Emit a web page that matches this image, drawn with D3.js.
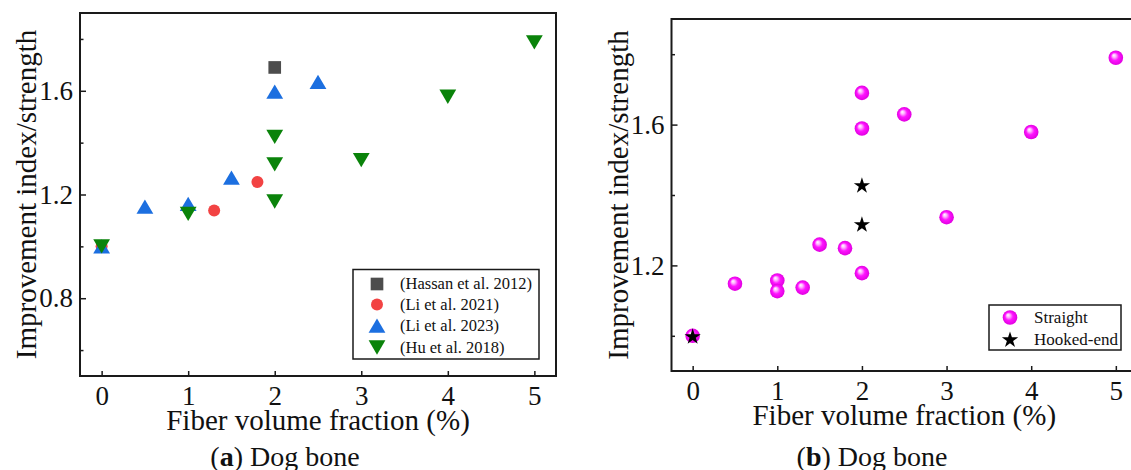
<!DOCTYPE html>
<html>
<head>
<meta charset="utf-8">
<script src="https://cdn.jsdelivr.net/npm/d3@7"></script>
<style>
  body { margin: 0; background: #fff; }
  svg text { font-family: "Liberation Serif", "Times New Roman", serif; fill: #111; }
</style>
</head>
<body>
<div class="container"></div>
<script>
// panel (a) data
const xHassan = [2];
const yHassan = [1.69];
const xLi21 = [0, 1.3, 1.8];
const yLi21 = [1.0, 1.138, 1.248];
const xLi23 = [0, 0.5, 1, 1.5, 2, 2.5];
const yLi23 = [1.0, 1.153, 1.164, 1.265, 1.597, 1.634];
const xHu = [0, 1, 2, 2, 2, 3, 4, 5];
const yHu = [1.0, 1.125, 1.422, 1.316, 1.173, 1.333, 1.577, 1.787];
const legendA = ["(Hassan et al. 2012)", "(Li et al. 2021)", "(Li et al. 2023)", "(Hu et al. 2018)"];

// panel (b) data
const xStraight = [0, 0.5, 1, 1, 1.3, 1.5, 1.8, 2, 2, 2, 2.5, 3, 4, 5];
const yStraight = [1.0, 1.148, 1.157, 1.127, 1.137, 1.259, 1.249, 1.69, 1.589, 1.178, 1.629, 1.337, 1.579, 1.79];
const xHooked = [0, 2, 2];
const yHooked = [1.0, 1.429, 1.318];
const legendB = ["Straight", "Hooked-end"];

const xTicks = [0, 1, 2, 3, 4, 5];
const yMajorA = [0.8, 1.2, 1.6];
const yMinorA = [0.6, 1.0, 1.4, 1.8];
const yMajorB = [1.2, 1.6];
const yMinorB = [1.0, 1.4, 1.8];

const W = 1131, H = 470;
const svg = d3.select(".container").append("svg")
  .attr("width", W).attr("height", H)
  .attr("font-family", "Liberation Serif, Times New Roman, serif");

// sphere gradient
const defs = svg.append("defs");
const grad = defs.append("radialGradient").attr("id", "ball")
  .attr("cx", "50%").attr("cy", "50%").attr("r", "50%")
  .attr("fx", "35%").attr("fy", "32%");
grad.append("stop").attr("offset", "0%").attr("stop-color", "#ffffff");
grad.append("stop").attr("offset", "25%").attr("stop-color", "#ffb0ff");
grad.append("stop").attr("offset", "55%").attr("stop-color", "#ff14ff");
grad.append("stop").attr("offset", "100%").attr("stop-color", "#e000e0");

// triangles centred on their bounding box
const triUp = { draw(ctx, s) { const h = s * 0.85; ctx.moveTo(0, -h / 2); ctx.lineTo(s / 2, h / 2); ctx.lineTo(-s / 2, h / 2); ctx.closePath(); } };
const triDown = { draw(ctx, s) { const h = s * 0.85; ctx.moveTo(0, h / 2); ctx.lineTo(s / 2, -h / 2); ctx.lineTo(-s / 2, -h / 2); ctx.closePath(); } };

function panel(o) {
  const x = d3.scaleLinear().domain([-0.25, 5.25]).range([o.left, o.right]);
  const y = d3.scaleLinear().domain(o.yDomain).range([o.bottom, o.top]);
  const g = svg.append("g");

  // frame
  g.append("rect")
    .attr("x", o.left).attr("y", o.top)
    .attr("width", o.right - o.left).attr("height", o.bottom - o.top)
    .attr("fill", "none").attr("stroke", "#1a1a1a").attr("stroke-width", 2);

  const ya = g.append("g").attr("transform", `translate(${o.left},0)`)
    .call(d3.axisLeft(y).tickValues(o.yMajor).tickSize(-6).tickPadding(7).tickFormat(d3.format(".1f")));
  ya.attr("font-family", null).attr("font-size", null);
  ya.select(".domain").remove();
  ya.selectAll("text").style("font-size", "27px");
  ya.selectAll("line").attr("stroke", "#1a1a1a").attr("stroke-width", 1.5);

  const ym = g.append("g").attr("transform", `translate(${o.left},0)`)
    .call(d3.axisLeft(y).tickValues(o.yMinor).tickSize(-3.5).tickFormat(""));
  ym.select(".domain").remove();
  ym.selectAll("line").attr("stroke", "#1a1a1a").attr("stroke-width", 1.5);

  const xa = g.append("g").attr("transform", `translate(0,${o.bottom})`)
    .call(d3.axisBottom(x).tickValues(xTicks).tickSize(-5).tickPadding(10).tickFormat(d3.format("d")));
  xa.attr("font-family", null).attr("font-size", null);
  xa.select(".domain").remove();
  xa.selectAll("text").style("font-size", "27px");
  xa.selectAll("line").attr("stroke", "#1a1a1a").attr("stroke-width", 1.5);

  // titles
  g.append("text")
    .attr("x", (o.left + o.right) / 2).attr("y", o.bottom + 54)
    .attr("text-anchor", "middle").style("font-size", "29px")
    .text("Fiber volume fraction (%)");
  g.append("text")
    .attr("transform", `translate(${o.left - 54},${(o.top + o.bottom) / 2}) rotate(-90)`)
    .attr("dy", "0.35em").attr("text-anchor", "middle").style("font-size", "29px")
    .text("Improvement index/strength");
  const cap = g.append("text")
    .attr("x", o.capX).attr("y", 466)
    .attr("text-anchor", "middle").style("font-size", "28px");
  cap.append("tspan").text("(");
  cap.append("tspan").attr("font-weight", "bold").text(o.letter);
  cap.append("tspan").text(") Dog bone");

  return { x, y, g };
}

function pts(p, xs, ys) { return xs.map((v, i) => [p.x(v), p.y(ys[i])]); }

// ---- panel (a)
const A = panel({ left: 80, right: 556, top: 13, bottom: 376, yDomain: [0.5, 1.9],
  yMajor: yMajorA, yMinor: yMinorA, capX: 285, letter: "a" });

const series = [
  { xs: xHassan, ys: yHassan, sym: d3.symbol().type(d3.symbolSquare).size(160), color: "#4d4d4d" },
  { xs: xLi21, ys: yLi21, sym: d3.symbol().type(d3.symbolCircle).size(Math.PI * 36), color: "#f24343" },
  { xs: xLi23, ys: yLi23, sym: d3.symbol().type(triUp).size(16.8), color: "#1c6fe0" },
  { xs: xHu, ys: yHu, sym: d3.symbol().type(triDown).size(16.8), color: "#0a830a" }
];

series.forEach(s => {
  A.g.append("g").selectAll("path").data(pts(A, s.xs, s.ys)).join("path")
    .attr("transform", d => `translate(${d[0]},${d[1]})`)
    .attr("d", s.sym()).attr("fill", s.color);
});

const legA = A.g.append("g");
legA.append("rect").attr("x", 353).attr("y", 269.5).attr("width", 186).attr("height", 89.5)
  .attr("fill", "#fff").attr("stroke", "#1a1a1a").attr("stroke-width", 1.5);
const rowsA = [284, 304.5, 325.7, 347.5];
series.forEach((s, i) => {
  legA.append("path").attr("transform", `translate(377,${rowsA[i]})`).attr("d", s.sym()).attr("fill", s.color);
  legA.append("text").attr("x", 400).attr("y", rowsA[i]).attr("dy", "0.33em")
    .style("font-size", "16.5px").text(legendA[i]);
});

// ---- panel (b)
const B = panel({ left: 671.5, right: 1137, top: 19, bottom: 371, yDomain: [0.9, 1.9],
  yMajor: yMajorB, yMinor: yMinorB, capX: 872, letter: "b" });

const ball = d3.symbol().type(d3.symbolCircle).size(Math.PI * 7.3 * 7.3);
const star = d3.symbol().type(d3.symbolStar).size(82);

B.g.append("g").selectAll("path").data(pts(B, xStraight, yStraight)).join("path")
  .attr("transform", d => `translate(${d[0]},${d[1]})`)
  .attr("d", ball()).attr("fill", "url(#ball)");
B.g.append("g").selectAll("path").data(pts(B, xHooked, yHooked)).join("path")
  .attr("transform", d => `translate(${d[0]},${d[1] + 1})`)
  .attr("d", star()).attr("fill", "#000");

const legB = B.g.append("g");
legB.append("rect").attr("x", 989).attr("y", 305).attr("width", 132).attr("height", 45)
  .attr("fill", "#fff").attr("stroke", "#1a1a1a").attr("stroke-width", 1.5);
legB.append("path").attr("transform", "translate(1010,317.5)").attr("d", ball()).attr("fill", "url(#ball)");
legB.append("path").attr("transform", "translate(1010,340)").attr("d", star()).attr("fill", "#000");
[317.5, 339].forEach((yy, i) => {
  legB.append("text").attr("x", 1034).attr("y", yy).attr("dy", "0.33em")
    .style("font-size", "17px").text(legendB[i]);
});
</script>
</body>
</html>
